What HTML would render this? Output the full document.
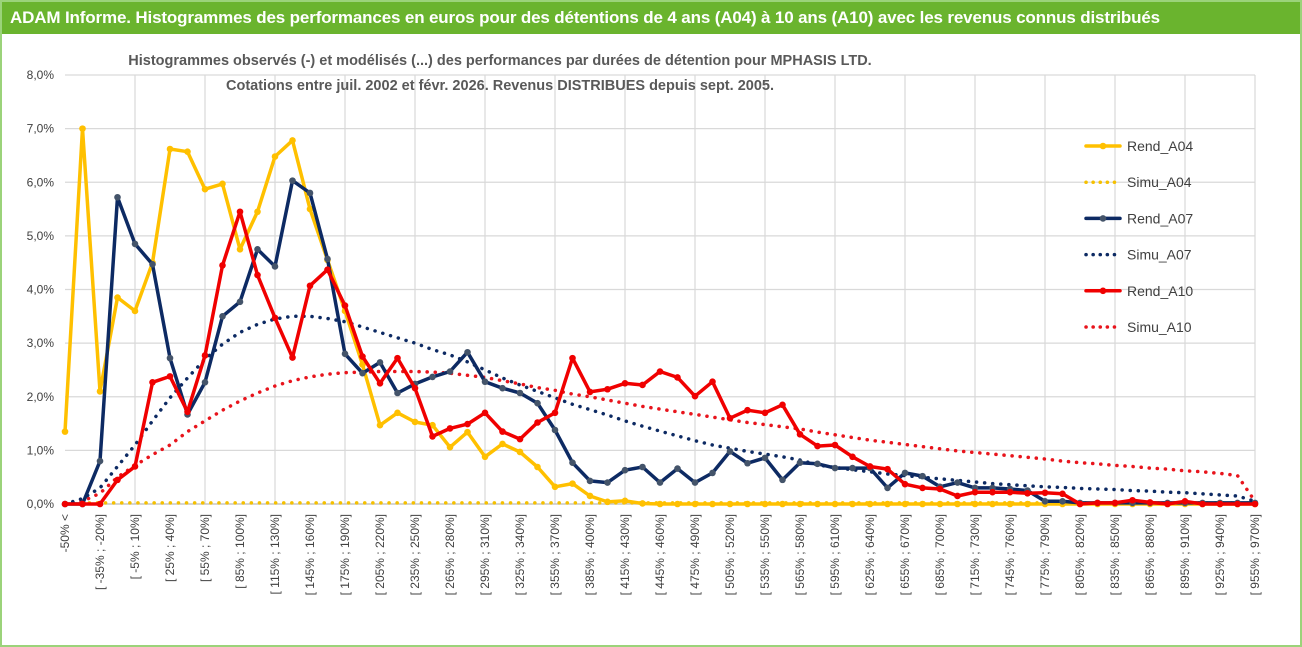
<!DOCTYPE html>
<html><head><meta charset="utf-8">
<style>
body{margin:0;background:#fff;}
#wrap{position:relative;width:1302px;height:647px;overflow:hidden;font-family:"Liberation Sans",sans-serif;box-sizing:border-box;border:2px solid #9bd37a;}
#bar{position:absolute;left:0;top:0;width:1298px;height:32px;background:#6ab42e;color:#fff;font-weight:bold;font-size:17px;line-height:32px;padding-left:8px;box-sizing:border-box;letter-spacing:-0.15px;}
</style></head><body>
<div id="wrap">
<div id="bar">ADAM Informe. Histogrammes des performances en euros pour des détentions de 4 ans (A04) à 10 ans (A10) avec les revenus connus distribués</div>
<svg id="chart" width="1302" height="647" style="position:absolute;left:-2px;top:-2px"></svg>
</div>
<script>
const rendA04=[1.35,7.0,2.1,3.85,3.6,4.5,6.62,6.57,5.87,5.97,4.75,5.45,6.48,6.78,5.5,4.55,3.6,2.6,1.47,1.7,1.53,1.47,1.06,1.34,0.88,1.12,0.97,0.69,0.32,0.38,0.15,0.04,0.06,0.01,0,0,0,0,0,0,0,0,0,0,0,0,0,0,0,0,0,0,0,0,0,0,0,0,0,0,0,0,0,0,0,0,0,0,0];
const simuA04=[0.02,0.02,0.02,0.02,0.02,0.02,0.02,0.02,0.02,0.02,0.02,0.02,0.02,0.02,0.02,0.02,0.02,0.02,0.02,0.02,0.02,0.02,0.02,0.02,0.02,0.02,0.02,0.02,0.02,0.02,0.02,0.02,0.02,0.02,0.02,0.02,0.02,0.02,0.02,0.02,0.02,0.02,0.02,0.02,0.02,0.02,0.02,0.02,0.02,0.02,0.02,0.02,0.02,0.02,0.02,0.02,0.02,0.02,0.02,0.02,0.02,0.02,0.02,0.02,0.02,0.02,0.02,0.02,0.02];
const rendA07=[0,0,0.8,5.72,4.85,4.47,2.72,1.67,2.27,3.5,3.77,4.75,4.43,6.03,5.8,4.57,2.8,2.44,2.64,2.07,2.24,2.37,2.47,2.83,2.28,2.16,2.07,1.88,1.38,0.77,0.43,0.4,0.63,0.69,0.4,0.66,0.4,0.58,0.98,0.76,0.86,0.45,0.77,0.75,0.67,0.67,0.67,0.3,0.58,0.52,0.32,0.4,0.3,0.3,0.28,0.25,0.05,0.05,0.02,0.02,0.02,0.02,0.02,0.02,0.02,0.02,0.02,0.02,0.02];
const simuA07=[0,0.1,0.3,0.7,1.1,1.55,1.98,2.35,2.7,2.98,3.2,3.35,3.45,3.5,3.5,3.46,3.4,3.3,3.2,3.1,3.0,2.88,2.78,2.65,2.5,2.35,2.22,2.1,1.98,1.86,1.76,1.66,1.55,1.45,1.36,1.27,1.18,1.1,1.04,0.98,0.93,0.88,0.82,0.73,0.68,0.64,0.6,0.56,0.53,0.5,0.47,0.44,0.41,0.38,0.36,0.34,0.32,0.31,0.29,0.28,0.27,0.25,0.24,0.22,0.21,0.19,0.17,0.15,0.05];
const rendA10=[0,0,0,0.45,0.7,2.27,2.38,1.72,2.77,4.45,5.45,4.27,3.47,2.73,4.07,4.37,3.7,2.75,2.25,2.72,2.16,1.26,1.41,1.49,1.7,1.35,1.21,1.52,1.7,2.72,2.09,2.14,2.25,2.22,2.47,2.36,2.01,2.28,1.6,1.75,1.7,1.85,1.3,1.08,1.1,0.88,0.7,0.65,0.37,0.3,0.28,0.15,0.22,0.22,0.22,0.2,0.21,0.19,0,0.02,0.02,0.07,0.03,0,0.05,0,0,0,0];
const simuA10=[0,0.05,0.2,0.5,0.72,0.92,1.1,1.35,1.55,1.75,1.92,2.07,2.2,2.3,2.37,2.42,2.45,2.46,2.47,2.47,2.47,2.46,2.44,2.4,2.36,2.3,2.24,2.17,2.12,2.05,2.0,1.94,1.88,1.82,1.77,1.72,1.67,1.62,1.57,1.52,1.48,1.44,1.4,1.34,1.29,1.24,1.19,1.15,1.11,1.07,1.03,0.99,0.96,0.93,0.9,0.87,0.84,0.8,0.77,0.75,0.72,0.7,0.67,0.65,0.62,0.6,0.57,0.53,0.05];
const yTicks=[0,1,2,3,4,5,6,7,8];
const categories=["-50% <"];
for(let i=1;i<69;i++){categories.push("[ "+(-50+15*(i-1))+"% ; "+(-35+15*(i-1))+"%]");}

const NS="http://www.w3.org/2000/svg";
const svg=document.getElementById('chart');
const X0=65,X1=1255,Y0=504,Y8=75;
const x=i=>X0+(X1-X0)*i/(categories.length-1);
const y=v=>Y0-(Y0-Y8)*v/8;
function mk(t,a,p){const e=document.createElementNS(NS,t);for(const k in a)e.setAttribute(k,a[k]);(p||svg).appendChild(e);return e;}

yTicks.forEach(t=>{
  const g=mk('line',{x1:X0,x2:X1,y1:y(t),y2:y(t),stroke:'#d9d9d9','stroke-width':1.2});
  
  
  const tx=mk('text',{x:54,y:y(t)+4,'text-anchor':'end','font-size':12,fill:'#404040'});
  tx.textContent=t.toFixed(1).replace('.',',')+'%';
  
  
});
categories.forEach((c,i)=>{
  if(i%4===0&&i>0){
    const g=mk('line',{x1:x(i),x2:x(i),y1:Y8,y2:Y0,stroke:'#d9d9d9','stroke-width':1.2});
    
    
  }
  if(i%2===0){
    const tx=mk('text',{x:0,y:0,'text-anchor':'end','font-size':12,fill:'#404040',transform:`translate(${x(i)+4},514) rotate(-90)`});
    tx.textContent=c;
    
    
  }
});
const ax=mk('line',{x1:X0,x2:X1,y1:Y0,y2:Y0,stroke:'#bfbfbf','stroke-width':1.2});



function series(data,color,dotted,marker,name){
  const pts=data.map((v,i)=>x(i).toFixed(1)+','+y(v).toFixed(1)).join(' ');
  const p=mk('polyline',{points:pts,fill:'none',stroke:color,'stroke-width':3.5,'stroke-linejoin':'round','stroke-linecap':'round'});
  if(dotted){p.setAttribute('stroke-dasharray','0.1 8');}
  
  
  if(marker){data.forEach((v,i)=>{
    const c=mk('circle',{cx:x(i),cy:y(v),r:3.3,fill:marker});
    
    
  });}
}
series(simuA04,'#f5c000',true,null,'simu-a04');
series(simuA10,'#e8141c',true,null,'simu-a10');
series(simuA07,'#0d2a63',true,null,'simu-a07');
series(rendA04,'#ffc000',false,'#ffc000','rend-a04');
series(rendA07,'#0d2a63',false,'#44546a','rend-a07');
series(rendA10,'#f00000',false,'#f00000','rend-a10');

[["Chart title line1","Histogrammes observés (-) et modélisés (...) des performances par durées de détention pour MPHASIS LTD.",65],
 ["Chart title line2","Cotations entre juil. 2002 et févr. 2026. Revenus DISTRIBUES depuis sept. 2005.",90]].forEach((t,k)=>{
  const tx=mk('text',{x:500,y:t[2],'text-anchor':'middle','font-size':14.5,'font-weight':'bold',fill:'#595959'});
  tx.textContent=t[1];
  
  
});

const leg=[["Rend_A04",'#ffc000',false],["Simu_A04",'#f5c000',true],["Rend_A07",'#0d2a63',false],["Simu_A07",'#0d2a63',true],["Rend_A10",'#f00000',false],["Simu_A10",'#e8141c',true]];
leg.forEach((l,k)=>{
  const yy=146+k*36.2;
  const ln=mk('line',{x1:1086,x2:1120,y1:yy,y2:yy,stroke:l[1],'stroke-width':3.5,'stroke-linecap':'round'});
  if(l[2])ln.setAttribute('stroke-dasharray','0.1 7');
  
  
  if(!l[2]){const c=mk('circle',{cx:1103,cy:yy,r:3.3,fill:k===2?'#44546a':l[1]});
    
    }
  const tx=mk('text',{x:1127,y:yy+5,'font-size':14,fill:'#404040'});
  tx.textContent=l[0];
  
  
});
</script>
</body></html>
